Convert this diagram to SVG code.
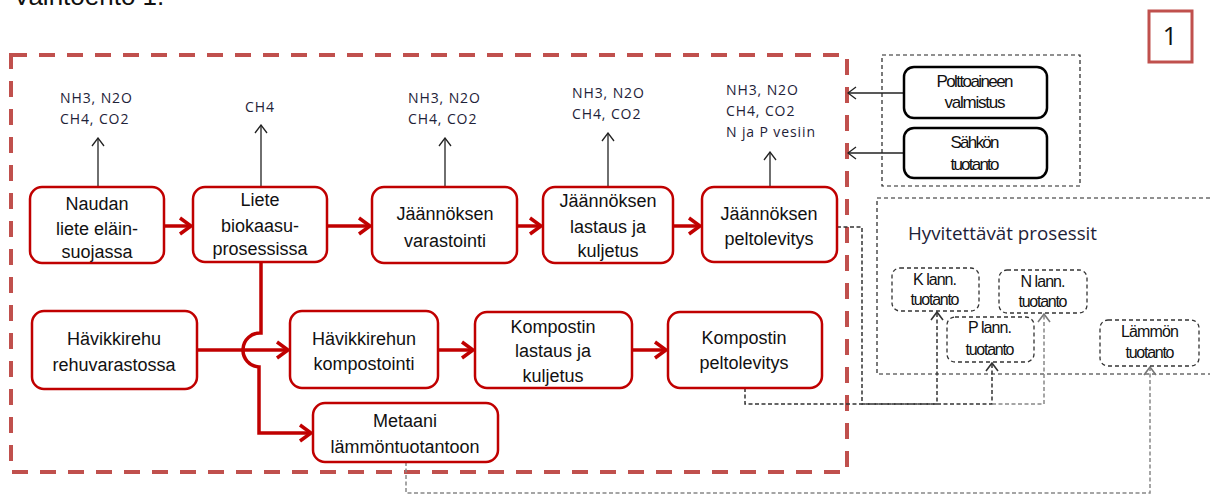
<svg xmlns="http://www.w3.org/2000/svg" width="1210" height="496" viewBox="0 0 1210 496">
<style>
.node rect{fill:#fff;stroke:#C00000;stroke-width:2.5}
.bnode rect{fill:#fff;stroke:#000;stroke-width:2.5}
.dnode rect{fill:#fff;stroke:#333;stroke-width:1.3;stroke-dasharray:4 3}
.t{font-family:"Liberation Sans",Arial,sans-serif;font-size:18px;fill:#111;text-anchor:middle}
.ts{font-family:"Liberation Sans",Arial,sans-serif;font-size:17px;fill:#111;text-anchor:middle}
.tx{font-family:"Liberation Sans",Arial,sans-serif;font-size:16px;fill:#111;text-anchor:middle}
.em{font-family:"Open Sans",sans-serif;font-size:14px;fill:#1E2238;letter-spacing:0.9px}
.red{fill:none;stroke:#C00000;stroke-width:3.5}
.thin{fill:none;stroke:#222;stroke-width:1.3}
.dash{fill:none;stroke:#333;stroke-width:1.5;stroke-dasharray:4 2.5}
.dashg{fill:none;stroke:#888;stroke-width:1.5;stroke-dasharray:4 2.5}
</style>
<defs>
<marker id="ar" viewBox="0 0 16 20" markerWidth="16" markerHeight="20" refX="13" refY="10" orient="auto" markerUnits="userSpaceOnUse">
<path d="M2,2 L13,10 L2,18" fill="none" stroke="#C00000" stroke-width="3.5" stroke-linejoin="miter"/>
</marker>
<marker id="ab" viewBox="0 0 10 14" markerWidth="10" markerHeight="14" refX="9" refY="7" orient="auto" markerUnits="userSpaceOnUse">
<path d="M1,1 L9,7 L1,13" fill="none" stroke="#222" stroke-width="1.3"/>
</marker>
<marker id="ad" viewBox="0 0 10 14" markerWidth="10" markerHeight="14" refX="9" refY="7" orient="auto" markerUnits="userSpaceOnUse">
<path d="M1,1 L9,7 L1,13" fill="none" stroke="#333" stroke-width="1.6"/>
</marker>
<marker id="adg" viewBox="0 0 10 14" markerWidth="10" markerHeight="14" refX="9" refY="7" orient="auto" markerUnits="userSpaceOnUse">
<path d="M1,1 L9,7 L1,13" fill="none" stroke="#777" stroke-width="1.6"/>
</marker>
</defs>

<text x="13" y="5" style="font-family:'Liberation Sans',Arial,sans-serif;font-size:26px;fill:#111">Vaihtoehto 1.</text>

<g id="badge">
<rect x="1149" y="11" width="43" height="51" fill="#fff" stroke="#C0504D" stroke-width="3"/>
<text x="1170" y="45" style="font-family:'Open Sans',sans-serif;font-size:25px;fill:#111;text-anchor:middle">1</text>
</g>

<g id="boundary">
<rect x="11" y="55" width="836" height="417" fill="none" stroke="#C0504D" stroke-width="4" stroke-dasharray="16 12"/>
</g>

<g id="external-box">
<rect x="882" y="55" width="198" height="131" fill="none" stroke="#222" stroke-width="1.2" stroke-dasharray="4 3"/>
</g>
<g id="credited-box">
<path d="M1210,198 H877 V374 H1210" fill="none" stroke="#222" stroke-width="1.2" stroke-dasharray="4 3"/>
<text x="908" y="240" textLength="189" lengthAdjust="spacingAndGlyphs" style="font-family:'Open Sans',sans-serif;font-size:18px;fill:#1E2238">Hyvitettävät prosessit</text>
</g>

<g id="emissions">
<text class="em" x="60" y="103">NH3, N2O</text>
<text class="em" x="60" y="124">CH4, CO2</text>
<text class="em" x="245" y="112">CH4</text>
<text class="em" x="408" y="103">NH3, N2O</text>
<text class="em" x="408" y="124">CH4, CO2</text>
<text class="em" x="572" y="98">NH3, N2O</text>
<text class="em" x="572" y="119">CH4, CO2</text>
<text class="em" x="726" y="95">NH3, N2O</text>
<text class="em" x="726" y="116">CH4, CO2</text>
<text class="em" x="726" y="137" textLength="89" style="letter-spacing:0">N ja P vesiin</text>
</g>

<g id="connectors">
<line class="thin" x1="98" y1="187" x2="98" y2="138" marker-end="url(#ab)"/>
<line class="thin" x1="261" y1="187" x2="261" y2="125" marker-end="url(#ab)"/>
<line class="thin" x1="445" y1="187" x2="445" y2="138" marker-end="url(#ab)"/>
<line class="thin" x1="608" y1="187" x2="608" y2="133" marker-end="url(#ab)"/>
<line class="thin" x1="770" y1="187" x2="770" y2="152" marker-end="url(#ab)"/>
<line class="thin" x1="904" y1="93" x2="848" y2="93" marker-end="url(#ab)"/>
<line class="thin" x1="904" y1="153" x2="848" y2="153" marker-end="url(#ab)"/>

<line class="red" x1="164" y1="226" x2="191" y2="226" marker-end="url(#ar)"/>
<line class="red" x1="327" y1="226" x2="370" y2="226" marker-end="url(#ar)"/>
<line class="red" x1="517" y1="226" x2="541" y2="226" marker-end="url(#ar)"/>
<line class="red" x1="673" y1="226" x2="700" y2="226" marker-end="url(#ar)"/>
<line class="red" x1="197" y1="350" x2="288" y2="350" marker-end="url(#ar)"/>
<line class="red" x1="438" y1="350" x2="473" y2="350" marker-end="url(#ar)"/>
<line class="red" x1="632" y1="350" x2="666" y2="350" marker-end="url(#ar)"/>
<path class="red" d="M261,262 V333 A17,17 0 0 0 259,367 V433 H311" marker-end="url(#ar)"/>

<path class="dash" d="M837,227 H862 V404 H937 V312" marker-end="url(#ad)"/>
<path class="dash" d="M745,388 V404 H992 V363" marker-end="url(#ad)"/>
<path class="dashg" d="M992,404 H1044 V314" marker-end="url(#adg)"/>
<path class="dashg" d="M406,462 V493 H1150 V367" marker-end="url(#adg)"/>
</g>

<g id="n-naudan" class="node">
<rect x="30" y="187" width="134" height="76" rx="12"/>
<text class="t" x="97" y="210">Naudan</text>
<text class="t" x="97" y="235">liete eläin-</text>
<text class="t" x="97" y="258">suojassa</text>
</g>
<g id="n-liete" class="node">
<rect x="193" y="187" width="134" height="75" rx="12"/>
<text class="t" x="260" y="206">Liete</text>
<text class="t" x="260" y="232">biokaasu-</text>
<text class="t" x="260" y="255">prosessissa</text>
</g>
<g id="n-varastointi" class="node">
<rect x="372" y="187" width="145" height="76" rx="12"/>
<text class="t" x="445" y="220">Jäännöksen</text>
<text class="t" x="445" y="247">varastointi</text>
</g>
<g id="n-lastaus" class="node">
<rect x="543" y="187" width="130" height="76" rx="12"/>
<text class="t" x="608" y="207">Jäännöksen</text>
<text class="t" x="608" y="233">lastaus ja</text>
<text class="t" x="608" y="257">kuljetus</text>
</g>
<g id="n-peltolevitys" class="node">
<rect x="702" y="187" width="135" height="75" rx="12"/>
<text class="t" x="769" y="220">Jäännöksen</text>
<text class="t" x="769" y="245">peltolevitys</text>
</g>

<g id="n-havikkirehu" class="node">
<rect x="32" y="311" width="165" height="78" rx="12"/>
<text class="t" x="114" y="345">Hävikkirehu</text>
<text class="t" x="114" y="371">rehuvarastossa</text>
</g>
<g id="n-kompostointi" class="node">
<rect x="290" y="311" width="148" height="77" rx="12"/>
<text class="t" x="364" y="345">Hävikkirehun</text>
<text class="t" x="364" y="370">kompostointi</text>
</g>
<g id="n-komp-lastaus" class="node">
<rect x="475" y="312" width="157" height="76" rx="12"/>
<text class="t" x="553" y="333">Kompostin</text>
<text class="t" x="553" y="357">lastaus ja</text>
<text class="t" x="553" y="382">kuljetus</text>
</g>
<g id="n-komp-pelto" class="node">
<rect x="668" y="312" width="154" height="76" rx="12"/>
<text class="t" x="744" y="344">Kompostin</text>
<text class="t" x="744" y="369">peltolevitys</text>
</g>
<g id="n-metaani" class="node">
<rect x="313" y="403" width="185" height="59" rx="12"/>
<text class="t" x="405" y="427">Metaani</text>
<text class="t" x="405" y="453">lämmöntuotantoon</text>
</g>

<g id="n-polttoaine" class="bnode">
<rect x="904" y="67" width="143" height="51" rx="10"/>
<text class="ts" x="975" y="87" textLength="77">Polttoaineen</text>
<text class="ts" x="975" y="108" textLength="61">valmistus</text>
</g>
<g id="n-sahko" class="bnode">
<rect x="904" y="128" width="143" height="50" rx="10"/>
<text class="ts" x="975" y="148" textLength="49">Sähkön</text>
<text class="ts" x="975" y="170" textLength="49">tuotanto</text>
</g>

<g id="n-k" class="dnode">
<rect x="892" y="268" width="87" height="43" rx="8"/>
<text class="tx" x="935" y="285" textLength="44">K lann.</text>
<text class="tx" x="935" y="305" textLength="49">tuotanto</text>
</g>
<g id="n-n" class="dnode">
<rect x="999" y="270" width="88" height="43" rx="8"/>
<text class="tx" x="1043" y="287" textLength="45">N lann.</text>
<text class="tx" x="1043" y="307" textLength="49">tuotanto</text>
</g>
<g id="n-p" class="dnode">
<rect x="947" y="317" width="87" height="45" rx="8"/>
<text class="tx" x="990" y="333" textLength="44">P lann.</text>
<text class="tx" x="990" y="355" textLength="49">tuotanto</text>
</g>
<g id="n-lammon" class="dnode">
<rect x="1100" y="320" width="99" height="46" rx="8"/>
<text class="tx" x="1150" y="337" textLength="58">Lämmön</text>
<text class="tx" x="1150" y="358" textLength="49">tuotanto</text>
</g>
</svg>
